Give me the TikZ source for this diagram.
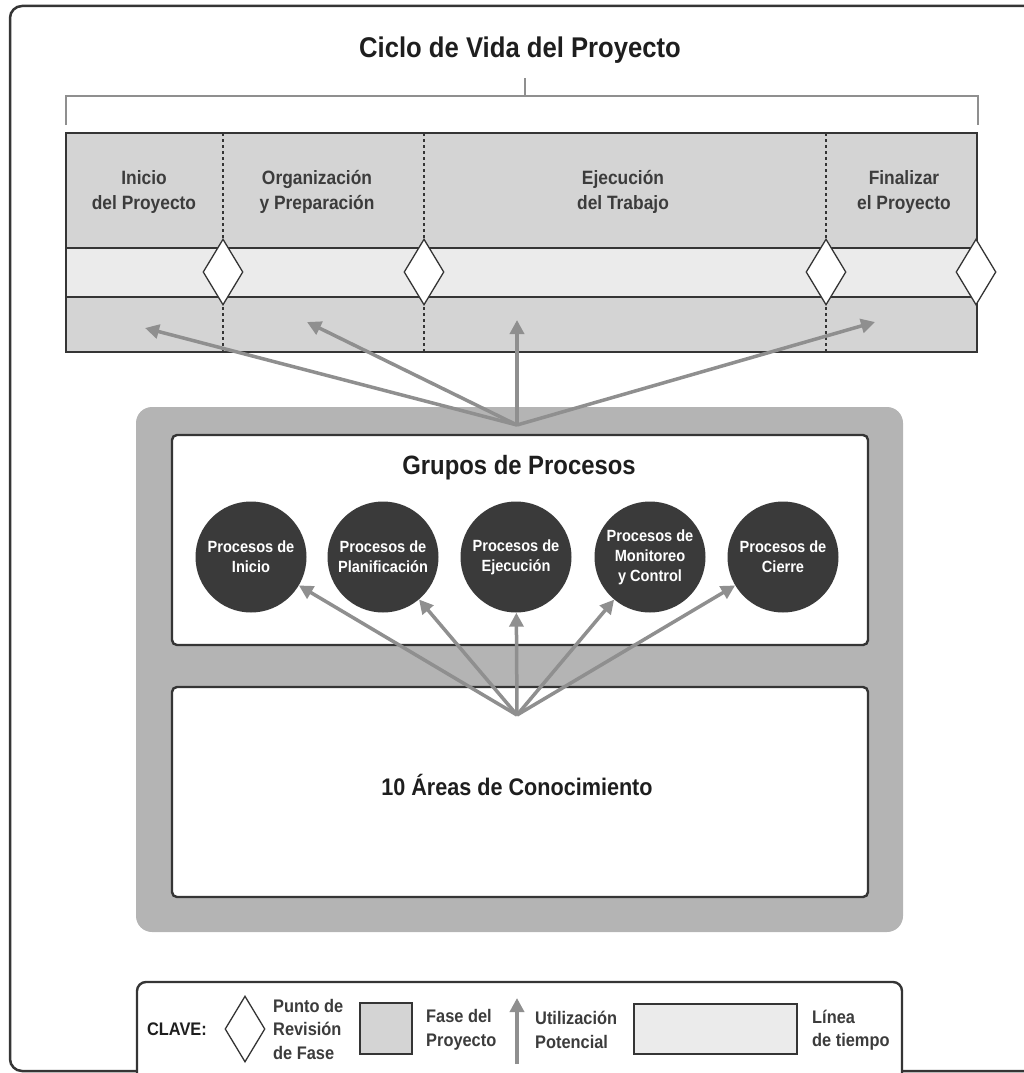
\documentclass[tikz,border=0pt]{standalone}
\usepackage{fontspec}
\setmainfont{Liberation Sans}[FakeStretch=0.9]
\usepackage{tikz}
\usetikzlibrary{arrows.meta, shapes.geometric}

\definecolor{phasegray}{HTML}{D4D4D4}
\definecolor{timegray}{HTML}{EBEBEB}
\definecolor{groupgray}{HTML}{B4B4B4}
\definecolor{arrowgray}{HTML}{8F8F8F}
\definecolor{circlegray}{HTML}{3A3A3A}
\definecolor{framegray}{HTML}{353535}
\definecolor{inkgray}{HTML}{1E1E1E}
\definecolor{labelgray}{HTML}{3C3C3C}

\begin{document}
\begin{tikzpicture}[x=1pt, y=-1pt,
		heading/.style={font=\fontsize{28.5}{32}\selectfont\bfseries, text=inkgray},
		phasename/.style={font=\fontsize{19.3}{25}\selectfont\bfseries, text=labelgray, align=center},
		proc/.style={circle, fill=circlegray, minimum size=111pt, inner sep=0pt, text=white, align=center, font=\fontsize{16.2}{20}\selectfont\bfseries},
		gate/.style={diamond, draw=framegray, fill=white, line width=1.3pt, minimum width=40pt, minimum height=66pt, inner sep=0pt},
		band/.style={draw=framegray, line width=1.8pt},
		divider/.style={draw=framegray, line width=1.2pt, dash pattern=on 3pt off 3pt},
		bracket/.style={draw=arrowgray, line width=2.5pt},
		panel/.style={draw=framegray, fill=white, line width=2.4pt, rounded corners=5pt},
		usage/.style={draw=arrowgray, line width=3.5pt, -{Triangle[length=14pt, width=14pt]}},
		keytext/.style={font=\fontsize{18.2}{23.5}\selectfont\bfseries, text=labelgray, align=left, inner sep=0pt, anchor=west}]
		
		%page frame
		\useasboundingbox (0,0) rectangle (1024,1073);
		\draw [framegray, line width=2.5pt, rounded corners=12pt] (10,6) rectangle (1080,1071);
		
		%life cycle title and bracket
		\node [heading] (cycle) at (520,50) {Ciclo de Vida del Proyecto};
		\coordinate (brtop) at (525,78);
		\coordinate (brmid) at (525,96);
		\draw [bracket] (brtop) -- (brmid);
		\draw [bracket] (66,125) -- (66,96) -- (978,96) -- (978,125);
		
		%definition of band limits
		\def\bandL{66};
		\def\bandR{977};
		\def\bandT{133};
		\def\bandB{352};
		
		%phase bands
		\fill [phasegray] (\bandL,\bandT) rectangle (\bandR,\bandB);
		\fill [timegray] (\bandL,248) rectangle (\bandR,297);
		\draw [band] (\bandL,\bandT) rectangle (\bandR,\bandB);
		\draw [band] (\bandL,248) -- (\bandR,248);
		\draw [band] (\bandL,297) -- (\bandR,297);
		\foreach \x in {223,424,826}
			\draw [divider] (\x,\bandT) -- (\x,\bandB);
		
		%phase names
		\node [phasename] (ph1) at (144,192) {Inicio\\del Proyecto};
		\node [phasename] (ph2) at (317,192) {Organización\\y Preparación};
		\node [phasename] (ph3) at (623,192) {Ejecución\\del Trabajo};
		\node [phasename] (ph4) at (904,192) {Finalizar\\el Proyecto};
		
		%phase gates
		\node [gate] (g1) at (223,272) {};
		\node [gate] (g2) at (424,272) {};
		\node [gate] (g3) at (826,272) {};
		\node [gate] (g4) at (976,272) {};
		
		%process groups and knowledge areas
		\fill [groupgray, rounded corners=16pt] (136,407) rectangle (903,932);
		\draw [panel] (172,435) rectangle (868,645);
		\draw [panel] (172,687) rectangle (868,897);
		\node [heading, font=\fontsize{26.5}{30}\selectfont\bfseries] (groups) at (519,468) {Grupos de Procesos};
		\node [heading, font=\fontsize{24}{28}\selectfont\bfseries] (areas) at (517,785) {10 Áreas de Conocimiento};
		
		\node [proc] (p1) at (251,557) {Procesos de\\Inicio};
		\node [proc] (p2) at (383,557) {Procesos de\\Planificación};
		\node [proc] (p3) at (516,557) {Procesos de\\Ejecución};
		\node [proc] (p4) at (650,557) {Procesos de\\Monitoreo\\y Control};
		\node [proc] (p5) at (783,557) {Procesos de\\Cierre};
		
		%usage arrows
		\coordinate (hubA) at (517,425);
		\coordinate (u1) at (145,328);
		\coordinate (u2) at (307,322);
		\coordinate (u3) at (517,320);
		\coordinate (u4) at (875,322);
		\foreach \t in {u1,u2,u3,u4}
			\draw [usage] (hubA) -- (\t);
		
		\coordinate (hubB) at (517,715);
		\foreach \t in {p1,p2,p3,p4,p5}
			\draw [usage] (hubB) -- (\t);
		
		%key
		\draw [panel, rounded corners=9pt] (137,982) rectangle (902,1095);
		\node [keytext, anchor=center, text=inkgray] (clave) at (177,1029) {CLAVE:};
		\node [gate] (kg) at (245,1029) {};
		\node [keytext] (kgt) at (273,1029) {Punto de\\Revisión\\de Fase};
		\draw [band, fill=phasegray] (360,1003) rectangle (412,1054);
		\node [keytext] (kpt) at (426,1030) {Fase del\\Proyecto};
		\coordinate (ka) at (517,1064);
		\coordinate (kb) at (517,998);
		\draw [usage] (ka) -- (kb);
		\node [keytext] (kut) at (535,1030) {Utilización\\Potencial};
		\draw [band, fill=timegray] (634,1004) rectangle (797,1054);
		\node [keytext] (klt) at (812,1030) {Línea\\de tiempo};
	\end{tikzpicture}
\end{document}
